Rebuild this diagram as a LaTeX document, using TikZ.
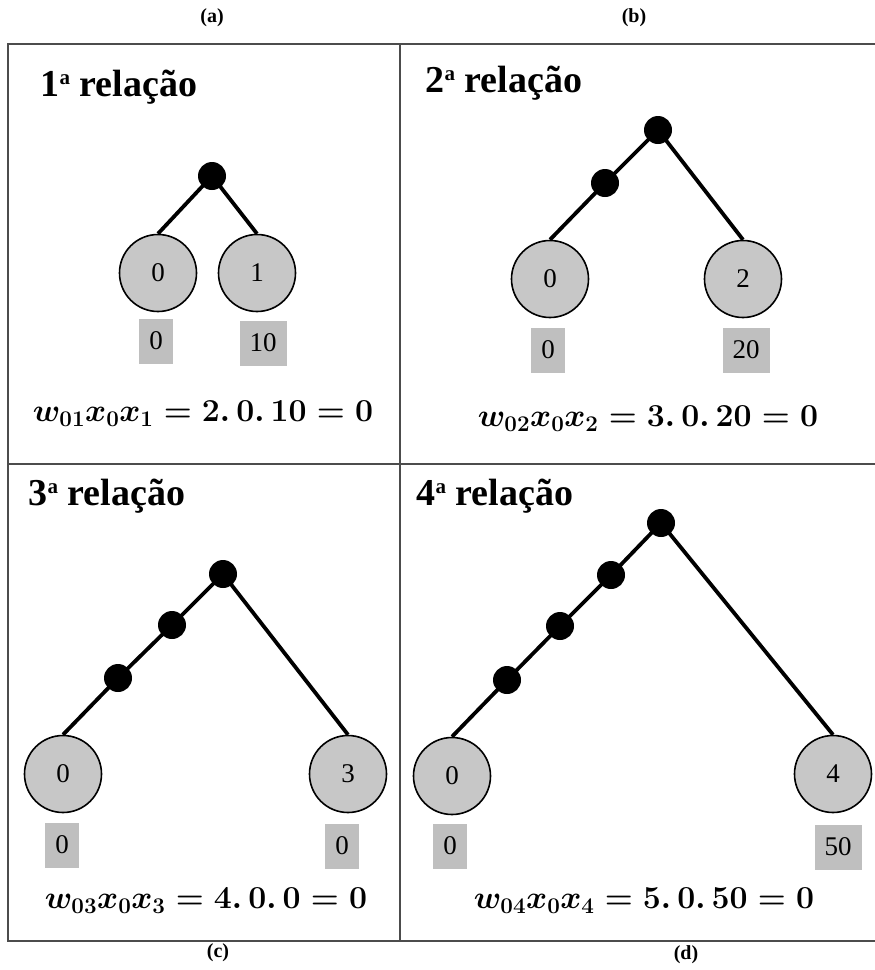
\RequirePackage{fix-cm}
\documentclass[tikz,border=0pt]{standalone}
\usepackage{fontspec}
\setmainfont{Liberation Serif}
\usepackage{amsmath}
\newcommand{\thsp}{\mskip3mu}
\newcommand{\ordA}{\raisebox{12pt}{\fontsize{21}{21}\selectfont a}}
\begin{document}
\begin{tikzpicture}[x=1pt,y=-1pt,
  framel/.style={draw=black!70, line width=1.5pt},
  leaf/.style={circle, draw, line width=1.6pt, fill=black!22, minimum size=77pt, inner sep=0pt, font=\fontsize{27}{27}\selectfont},
  jn/.style={circle, fill=black, minimum size=28pt, inner sep=0pt},
  val/.style={fill=black!25, inner xsep=10pt, inner ysep=0pt, minimum height=45pt, font=\fontsize{27}{27}\selectfont},
  link/.style={line width=3.8pt},
  ttl/.style={font=\bfseries\fontsize{38}{38}\selectfont, anchor=west},
  eqn/.style={font=\fontsize{32}{32}\selectfont\boldmath},
  sublabel/.style={font=\bfseries\fontsize{20}{20}\selectfont}]
\useasboundingbox (0,0) rectangle (875,970);
% frame
\coordinate (tl) at (8,44);
\coordinate (tr) at (875,44);
\coordinate (bl) at (8,941);
\coordinate (br) at (875,941);
\coordinate (vt) at (400,44);
\coordinate (vb) at (400,941);
\coordinate (hl) at (8,464);
\coordinate (hr) at (875,464);
\draw[framel] (tr) -- (tl) -- (bl) -- (br);
\draw[framel] (vt) -- (vb);
\draw[framel] (hl) -- (hr);
% labels
\node[sublabel] (la) at (212,18) {(a)};
\node[sublabel] (lb) at (634,18) {(b)};
\node[sublabel] (lc) at (218,953) {(c)};
\node[sublabel] (ld) at (686,955) {(d)};
% panel a
\node[ttl] (ta) at (37,87) {1\ordA\ relação};
\node[jn] (a0) at (212,176) {};
\node[leaf] (a1) at (158,273) {0};
\node[leaf] (a2) at (257,273) {1};
\draw[link] (a0.center) -- (a1.north);
\draw[link] (a0.center) -- (a2.north);
\node[val] (va1) at (156,341) {0};
\node[val] (va2) at (263,343) {10};
\node[eqn] (ea) at (203,414) {$w_{01}x_0x_1 = 2.\thsp 0.\thsp 10 = 0$};
% panel b
\node[ttl] (tb) at (422,83) {2\ordA\ relação};
\node[jn] (b0) at (658,130) {};
\node[jn] (b1) at (605,183) {};
\node[leaf] (b2) at (550,279) {0};
\node[leaf] (b3) at (743,279) {2};
\draw[link] (b0.center) -- (b1.center) -- (b2.north);
\draw[link] (b0.center) -- (b3.north);
\node[val] (vb1) at (548,350) {0};
\node[val] (vb2) at (746,350) {20};
\node[eqn] (eb) at (648,419) {$w_{02}x_0x_2 = 3.\thsp 0.\thsp 20 = 0$};
% panel c
\node[ttl] (tc) at (25,496) {3\ordA\ relação};
\node[jn] (c0) at (223,574) {};
\node[jn] (c1) at (172,625) {};
\node[jn] (c2) at (118,678) {};
\node[leaf] (c3) at (63,774) {0};
\node[leaf] (c4) at (348,774) {3};
\draw[link] (c0.center) -- (c1.center) -- (c2.center) -- (c3.north);
\draw[link] (c0.center) -- (c4.north);
\node[val] (vc1) at (62,845) {0};
\node[val] (vc2) at (342,846) {0};
\node[eqn] (ec) at (206,901) {$w_{03}x_0x_3 = 4.\thsp 0.\thsp 0 = 0$};
% panel d
\node[ttl] (td) at (413,496) {4\ordA\ relação};
\node[jn] (d0) at (661,523) {};
\node[jn] (d1) at (611,575) {};
\node[jn] (d2) at (560,626) {};
\node[jn] (d3) at (507,680) {};
\node[leaf] (d4) at (452,776) {0};
\node[leaf] (d5) at (833,774) {4};
\draw[link] (d0.center) -- (d1.center) -- (d2.center) -- (d3.center) -- (d4.north);
\draw[link] (d0.center) -- (d5.north);
\node[val] (vd1) at (450,846) {0};
\node[val] (vd2) at (838,847) {50};
\node[eqn] (ed) at (644,901) {$w_{04}x_0x_4 = 5.\thsp 0.\thsp 50 = 0$};
\end{tikzpicture}
\end{document}
